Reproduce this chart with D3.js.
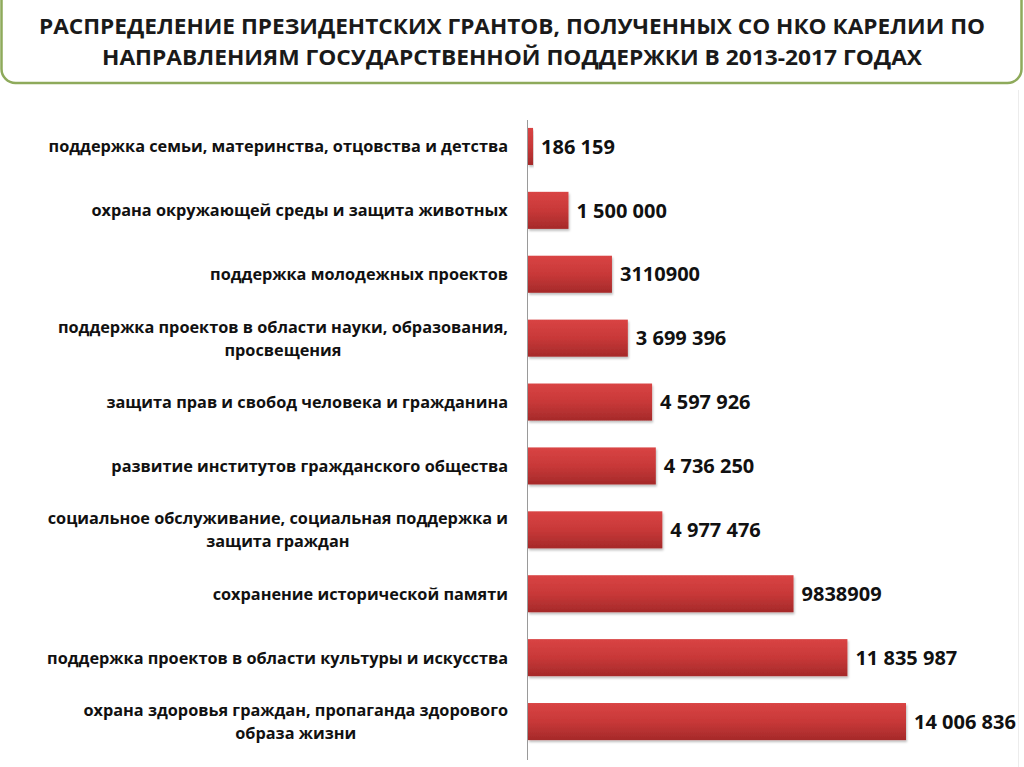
<!DOCTYPE html>
<html>
<head>
<meta charset="utf-8">
<script src="https://cdn.jsdelivr.net/npm/d3@7"></script>
<style>
  html, body { margin: 0; padding: 0; background: #ffffff; }
  svg { display: block; }
</style>
</head>
<body>
<svg id="chart" width="1024" height="767"></svg>
<script>
const titleLines = [
  "РАСПРЕДЕЛЕНИЕ  ПРЕЗИДЕНТСКИХ ГРАНТОВ, ПОЛУЧЕННЫХ СО НКО КАРЕЛИИ ПО",
  "НАПРАВЛЕНИЯМ ГОСУДАРСТВЕННОЙ ПОДДЕРЖКИ В 2013-2017 ГОДАХ"
];
const categories = [
  ["поддержка семьи, материнства, отцовства и детства"],
  ["охрана окружающей среды и защита животных"],
  ["поддержка молодежных проектов"],
  ["поддержка проектов в области науки, образования,", "просвещения"],
  ["защита прав и свобод человека и гражданина"],
  ["развитие институтов гражданского общества"],
  ["социальное обслуживание, социальная поддержка и", "защита граждан"],
  ["сохранение исторической памяти"],
  ["поддержка проектов в области культуры и искусства"],
  ["охрана здоровья граждан, пропаганда здорового", "образа жизни"]
];
const values = [186159, 1500000, 3110900, 3699396, 4597926, 4736250, 4977476, 9838909, 11835987, 14006836];
const valueLabels = ["186 159", "1 500 000", "3110900", "3 699 396", "4 597 926", "4 736 250", "4 977 476", "9838909", "11 835 987", "14 006 836"];

const svg = d3.select("#chart");
const FONT = "'Open Sans', 'Noto Sans', 'DejaVu Sans', sans-serif";

// gradient for bars
const defs = svg.append("defs");
const grad = defs.append("linearGradient").attr("id", "barGrad")
  .attr("x1", 0).attr("y1", 0).attr("x2", 0).attr("y2", 1);
grad.append("stop").attr("offset", "0%").attr("stop-color", "#d94444");
grad.append("stop").attr("offset", "50%").attr("stop-color", "#c83838");
grad.append("stop").attr("offset", "100%").attr("stop-color", "#a52a2a");
const shadow = defs.append("filter").attr("id", "shadow").attr("x", "-5%").attr("y", "-10%").attr("width", "115%").attr("height", "140%");
shadow.append("feDropShadow").attr("dx", 1).attr("dy", 2).attr("stdDeviation", 1.2).attr("flood-color", "#000").attr("flood-opacity", 0.25);

// title box
svg.append("rect")
  .attr("x", 1.5).attr("y", -20).attr("width", 1020).attr("height", 103)
  .attr("rx", 14).attr("ry", 14)
  .attr("fill", "#ffffff").attr("stroke", "#8eaa5b").attr("stroke-width", 2.5);

svg.append("g").selectAll("text").data(titleLines).join("text")
  .attr("x", 512).attr("y", (d, i) => 34 + i * 31)
  .attr("text-anchor", "middle")
  .attr("font-family", "'Liberation Sans Narrow', 'Open Sans', sans-serif")
  .attr("font-weight", "bold").attr("font-size", 22)
  .attr("fill", "#1a1a1a")
  .attr("textLength", (d, i) => i === 0 ? 946 : 820)
  .attr("lengthAdjust", "spacingAndGlyphs")
  .text(d => d);

// faint slide edge on right
svg.append("line").attr("x1", 1018.5).attr("x2", 1018.5).attr("y1", 90).attr("y2", 767)
  .attr("stroke", "#ececec").attr("stroke-width", 1);

const x0 = 528;
const x = d3.scaleLinear().domain([0, 14006836]).range([x0, 906]);
const y = d3.scaleBand().domain(d3.range(categories.length))
  .range([114.5, 753.5]).paddingInner(0.42).paddingOuter(0.21);

// bars
svg.append("g").selectAll("rect").data(values).join("rect")
  .attr("x", x(0))
  .attr("y", (d, i) => y(i))
  .attr("width", d => x(d) - x(0))
  .attr("height", y.bandwidth())
  .attr("fill", "url(#barGrad)")
  .attr("filter", "url(#shadow)");

// axis line
svg.append("line").attr("x1", x0 - 0.5).attr("x2", x0 - 0.5).attr("y1", 120).attr("y2", 760)
  .attr("stroke", "#9a9a9a").attr("stroke-width", 1);

// value labels
svg.append("g").selectAll("text").data(values).join("text")
  .attr("x", d => x(d) + 8)
  .attr("y", (d, i) => y(i) + y.bandwidth() / 2)
  .attr("dy", "0.36em")
  .attr("font-family", FONT).attr("font-weight", "bold").attr("font-size", 20)
  .attr("fill", "#111")
  .text((d, i) => valueLabels[i]);

// category labels
const labelG = svg.append("g");
categories.forEach((lines, i) => {
  const cy = y(i) + y.bandwidth() / 2;
  const lh = 23;
  const t = labelG.append("text")
    .attr("font-family", FONT).attr("font-weight", "bold").attr("font-size", 16.3)
    .attr("fill", "#111").attr("text-anchor", "middle");
  lines.forEach((ln, j) => {
    t.append("tspan").attr("x", 0).attr("y", cy + (j - (lines.length - 1) / 2) * lh).attr("dy", "0.36em").text(ln);
  });
  const bb = t.node().getBBox();
  const right = 508;
  t.attr("transform", `translate(${right - bb.width / 2},0)`);
});
</script>
</body>
</html>
